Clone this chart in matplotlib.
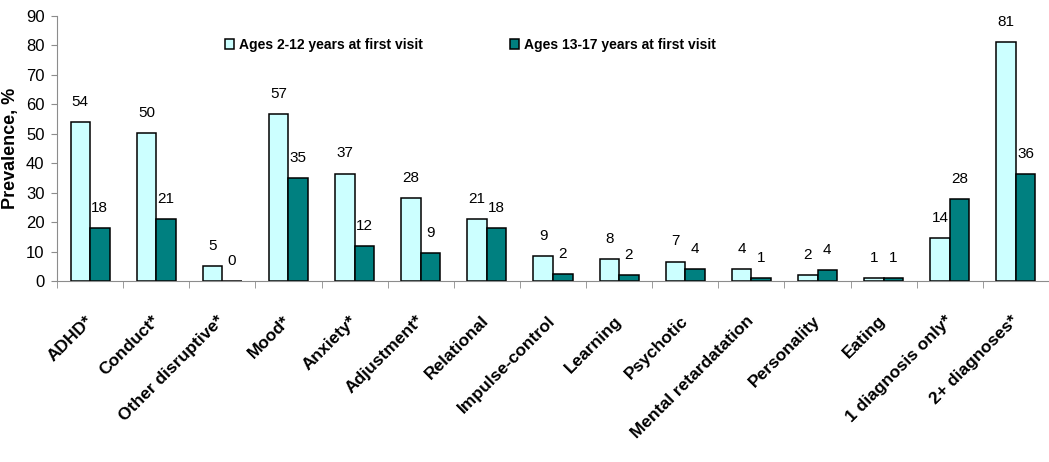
import matplotlib.pyplot as plt
import numpy as np
from matplotlib.patches import Rectangle

plt.rcParams['font.family'] = ['Liberation Sans', 'DejaVu Sans']

categories = ['ADHD*', 'Conduct*', 'Other disruptive*', 'Mood*', 'Anxiety*',
              'Adjustment*', 'Relational', 'Impulse-control', 'Learning',
              'Psychotic', 'Mental retardatation', 'Personality', 'Eating',
              '1 diagnosis only*', '2+ diagnoses*']
young = [54.0, 50.1, 5.2, 56.6, 36.5, 28.1, 21.0, 8.5, 7.5, 6.6, 4.1, 2.0, 1.0, 14.5, 81.1]
teen = [18.1, 21.1, 0.0, 35.1, 12.0, 9.6, 18.0, 2.4, 2.0, 4.0, 1.0, 3.6, 1.0, 27.9, 36.2]
young_labels = [54, 50, 5, 57, 37, 28, 21, 9, 8, 7, 4, 2, 1, 14, 81]
teen_labels = [18, 21, 0, 35, 12, 9, 18, 2, 2, 4, 1, 4, 1, 28, 36]
series_names = ['Ages 2-12 years at first visit', 'Ages 13-17 years at first visit']

light = '#CCFFFF'
dark = '#008080'
grey = '#8C8C8C'

fig = plt.figure(figsize=(10.49, 4.62), dpi=100, facecolor='white')
ax = fig.add_axes([57 / 1049, 181 / 462, 1 - 57 / 1049, 265 / 462])

x = np.arange(len(categories))
w = 0.295
ax.bar(x - w / 2, young, w, color=light, edgecolor='black', linewidth=1.1)
ax.bar(x + w / 2, teen, w, color=dark, edgecolor='black', linewidth=1.1)

# value labels above bars
for i in range(len(categories)):
    ax.annotate(str(young_labels[i]), (x[i] - w / 2, young[i]), xytext=(0, 14.5),
                textcoords='offset points', ha='center', va='center', fontsize=11)
    ax.annotate(str(teen_labels[i]), (x[i] + w / 2, teen[i]), xytext=(0, 14.5),
                textcoords='offset points', ha='center', va='center', fontsize=11)

ax.set_xlim(-0.5, len(categories) - 0.5)
ax.set_ylim(0, 90)
ax.set_yticks(np.arange(0, 91, 10))
ax.tick_params(axis='y', labelsize=12, length=4, color=grey, pad=5)

ax.set_xticks(x)
ax.set_xticklabels(categories, fontsize=12.5, fontweight='bold')
ax.set_xticks(np.arange(-0.5, len(categories), 1), minor=True)
ax.tick_params(axis='x', which='major', length=0, pad=27)
ax.tick_params(axis='x', which='minor', length=5, color=grey)
plt.setp(ax.get_xticklabels(), rotation=45, ha='right', va='center', rotation_mode='anchor')

ax.spines['top'].set_visible(False)
ax.spines['right'].set_visible(False)
ax.spines['left'].set_color(grey)
ax.spines['bottom'].set_color(grey)

ax.set_ylabel('Prevalence, %', fontsize=13, fontweight='bold')
ax.yaxis.set_label_coords(-38 / 992, 0.5)

handles = [Rectangle((0, 0), 1, 1, facecolor=light, edgecolor='black', linewidth=1.1),
           Rectangle((0, 0), 1, 1, facecolor=dark, edgecolor='black', linewidth=1.1)]
ax.legend(handles, series_names, loc='center left', bbox_to_anchor=(225 / 1049, 1 - 45 / 462),
          bbox_transform=fig.transFigure, ncol=2, frameon=False, borderpad=0, borderaxespad=0,
          handlelength=0.65, handleheight=0.8, handletextpad=0.35, columnspacing=6.3,
          prop={'size': 10, 'weight': 'bold'})

fig.savefig('out.png', dpi=100, facecolor='white')
